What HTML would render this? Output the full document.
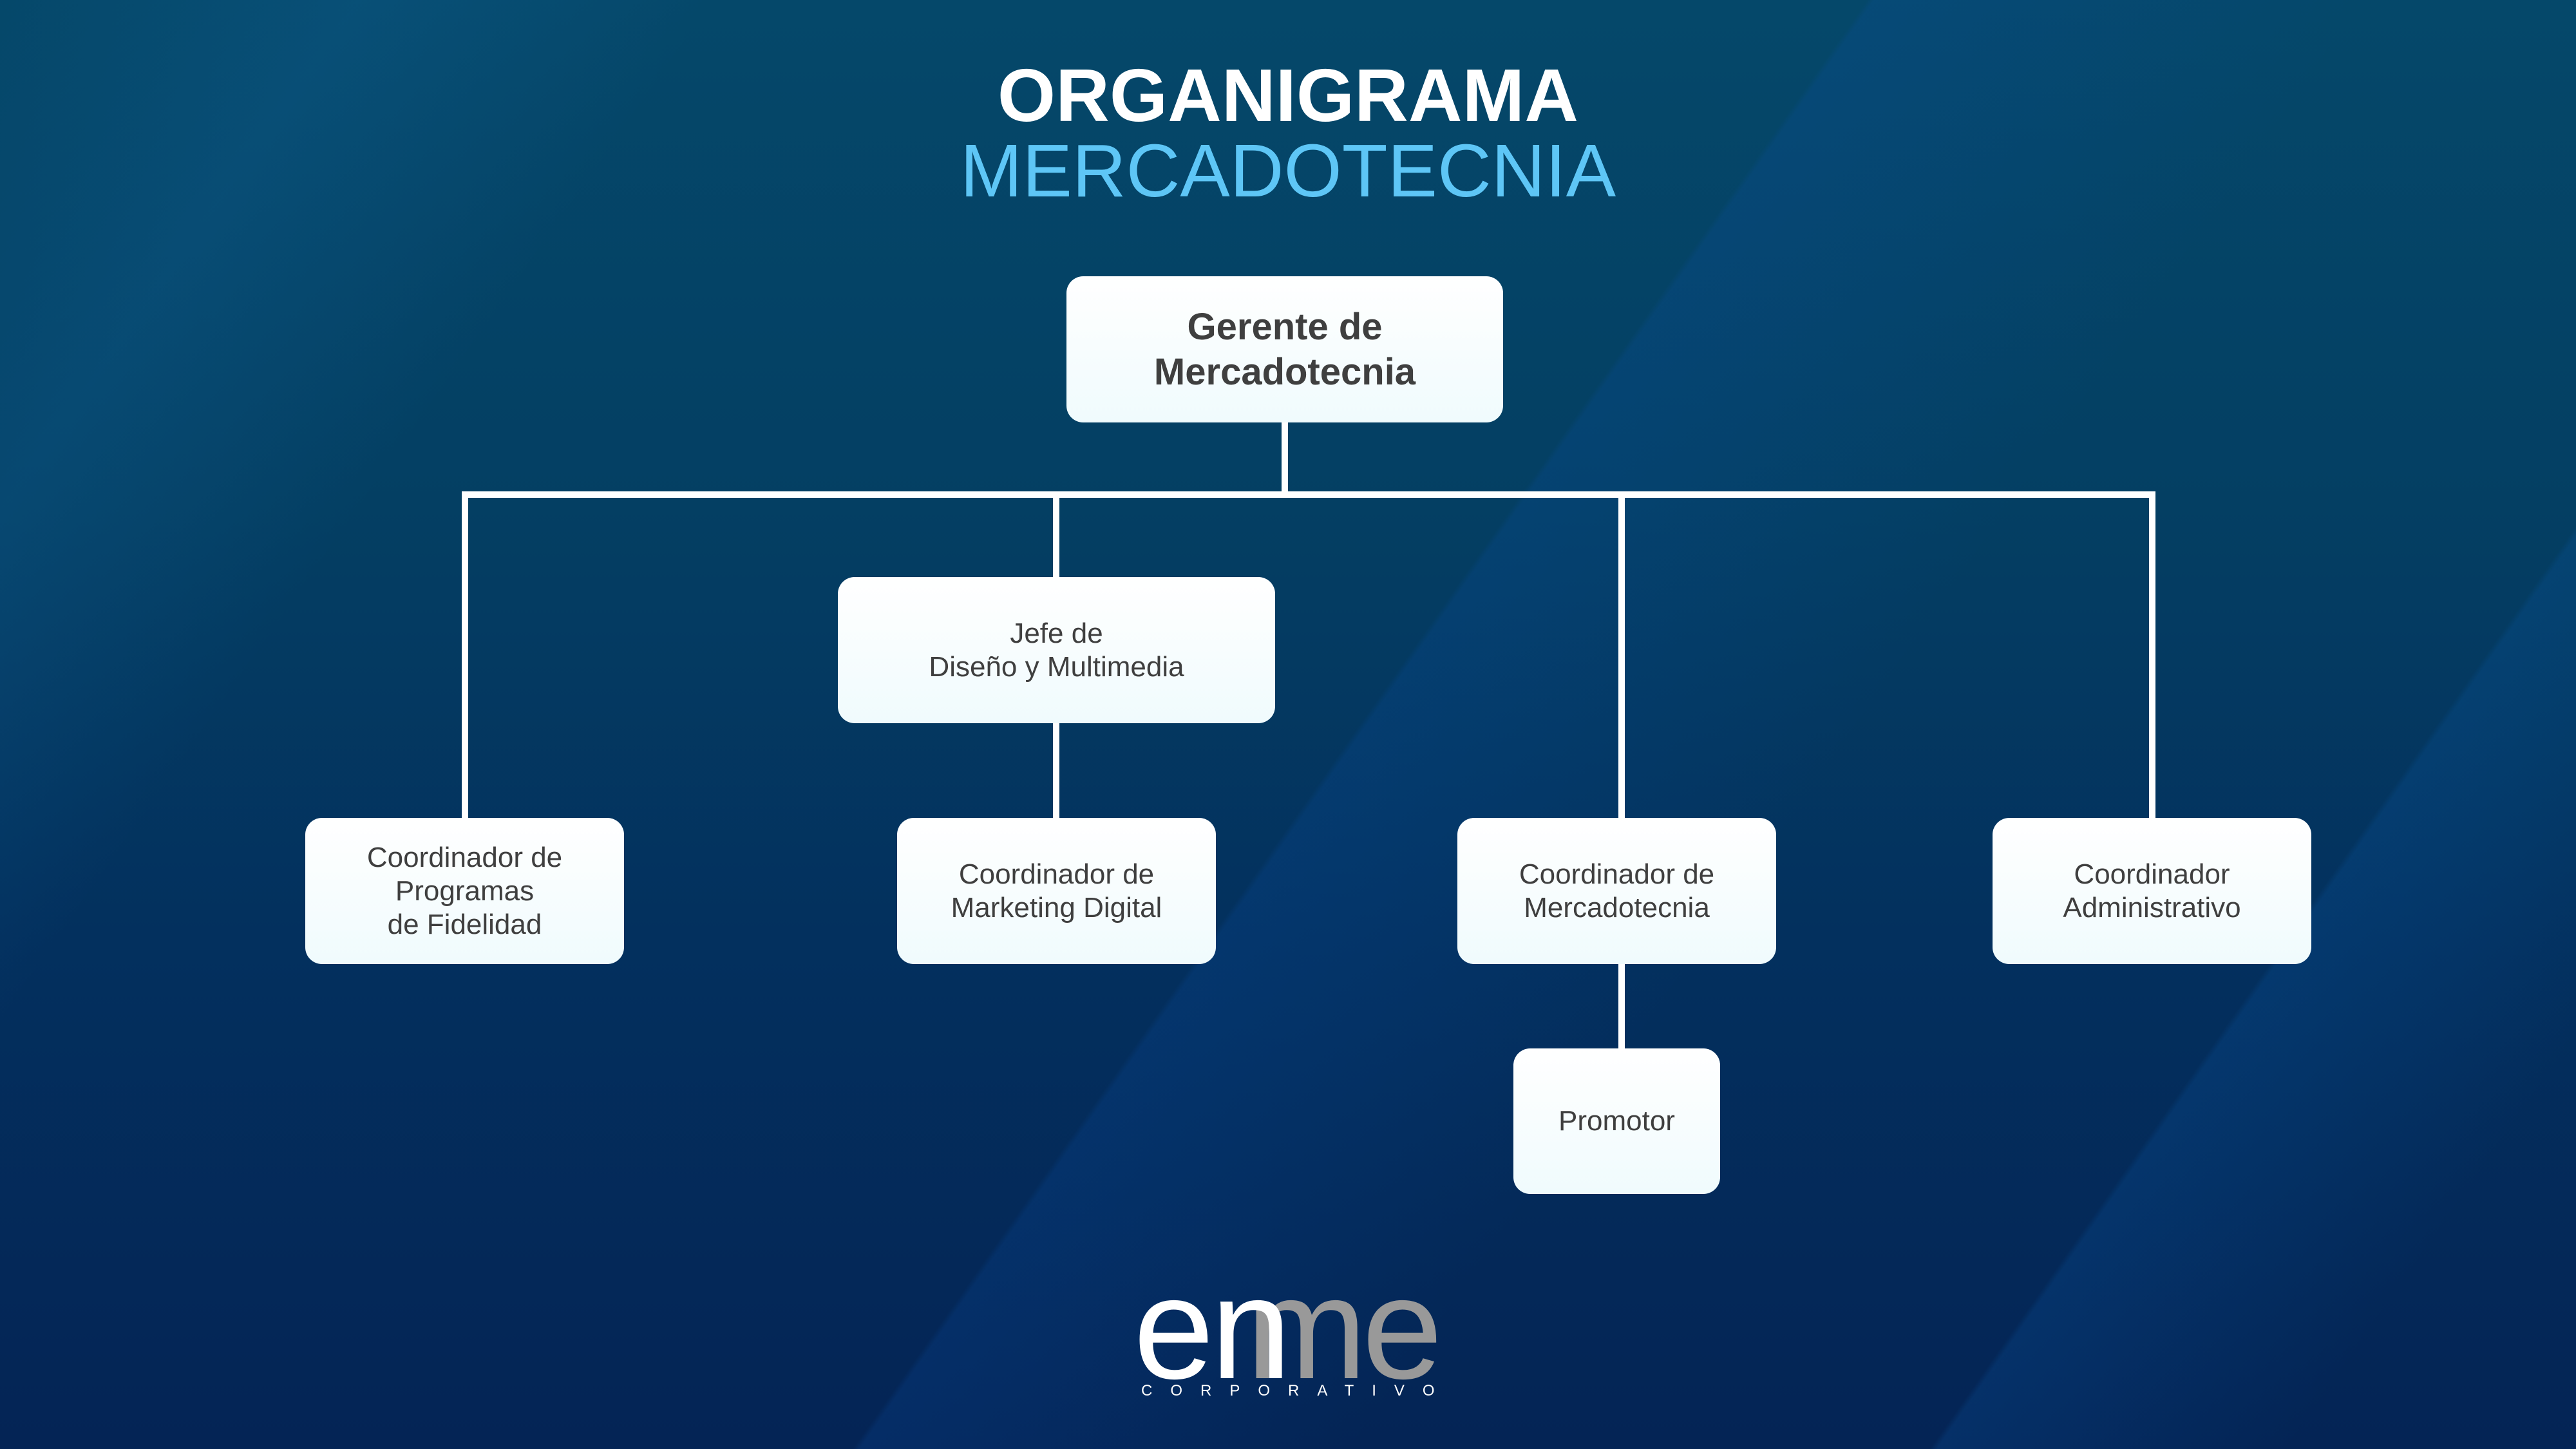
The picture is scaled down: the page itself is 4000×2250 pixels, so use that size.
<!DOCTYPE html>
<html><head><meta charset="utf-8"><style>
*{margin:0;padding:0;box-sizing:border-box}
html,body{width:4000px;height:2250px;overflow:hidden;background:#042a58}
#w{position:absolute;left:0;top:0;width:4000px;height:2250px;overflow:hidden;font-family:"Liberation Sans",sans-serif;
background:
linear-gradient(125deg,rgba(20,110,170,0.0) 0%,rgba(20,110,170,0.2) 10%,rgba(20,110,170,0.0) 20%,rgba(0,0,0,0) 100%),
linear-gradient(125deg,rgba(0,0,0,0) 52%,rgba(10,80,170,0.2) 52.2%,rgba(10,80,170,0.0) 66%,rgba(0,0,0,0) 100%),
linear-gradient(125deg,rgba(0,0,0,0) 82%,rgba(10,90,170,0.22) 82.2%,rgba(10,90,170,0.0) 92%,rgba(0,0,0,0) 100%),
linear-gradient(180deg,#05486a 0%,#043f63 35%,#03305e 65%,#042455 100%);}
.box{position:absolute;background:linear-gradient(180deg,#ffffff,#f0fbfd);border-radius:26px;display:flex;align-items:center;justify-content:center;text-align:center;color:#3f3f3f;font-size:44px;line-height:52px}
.l{position:absolute;background:#fff}
.g{position:absolute;top:1950px;font-size:225px;line-height:225px;height:225px;white-space:nowrap}
</style></head><body><div id="w">

<div style="position:absolute;left:0;width:4000px;top:90px;text-align:center;color:#fff;font-weight:bold;font-size:116px;line-height:116px">ORGANIGRAMA</div>
<div style="position:absolute;left:0;width:4000px;top:207px;text-align:center;color:#5ec6f6;font-size:116px;line-height:116px">MERCADOTECNIA</div>

<div class="l" style="left:1990px;top:656px;width:10px;height:112px"></div>
<div class="l" style="left:717px;top:763px;width:2630px;height:10px"></div>
<div class="l" style="left:717px;top:763px;width:10px;height:510px"></div>
<div class="l" style="left:1635px;top:763px;width:10px;height:135px"></div>
<div class="l" style="left:1635px;top:1120px;width:10px;height:153px"></div>
<div class="l" style="left:2513px;top:763px;width:10px;height:510px"></div>
<div class="l" style="left:3337px;top:763px;width:10px;height:510px"></div>
<div class="l" style="left:2513px;top:1495px;width:10px;height:136px"></div>

<div class="box" style="left:1656px;top:429px;width:678px;height:227px;font-weight:bold;font-size:58px;line-height:70px">Gerente de<br>Mercadotecnia</div>
<div class="box" style="left:1301px;top:896px;width:679px;height:227px">Jefe de<br>Diseño y Multimedia</div>
<div class="box" style="left:474px;top:1270px;width:495px;height:227px">Coordinador de<br>Programas<br>de Fidelidad</div>
<div class="box" style="left:1393px;top:1270px;width:495px;height:227px">Coordinador de<br>Marketing Digital</div>
<div class="box" style="left:2263px;top:1270px;width:495px;height:227px">Coordinador de<br>Mercadotecnia</div>
<div class="box" style="left:3094px;top:1270px;width:495px;height:227px">Coordinador<br>Administrativo</div>
<div class="box" style="left:2350px;top:1628px;width:321px;height:226px">Promotor</div>

<div class="g" style="left:1935px;color:#999">m</div>
<div class="g" style="left:2115px;color:#999">e</div>
<div class="g" style="left:1760px;color:#fff">e</div>
<div class="g" style="left:1880px;color:#fff">n</div>
<div style="position:absolute;left:1772px;top:2148px;font-size:24px;line-height:24px;color:#fff;letter-spacing:28px;white-space:nowrap">CORPORATIVO</div>
</div></body></html>
